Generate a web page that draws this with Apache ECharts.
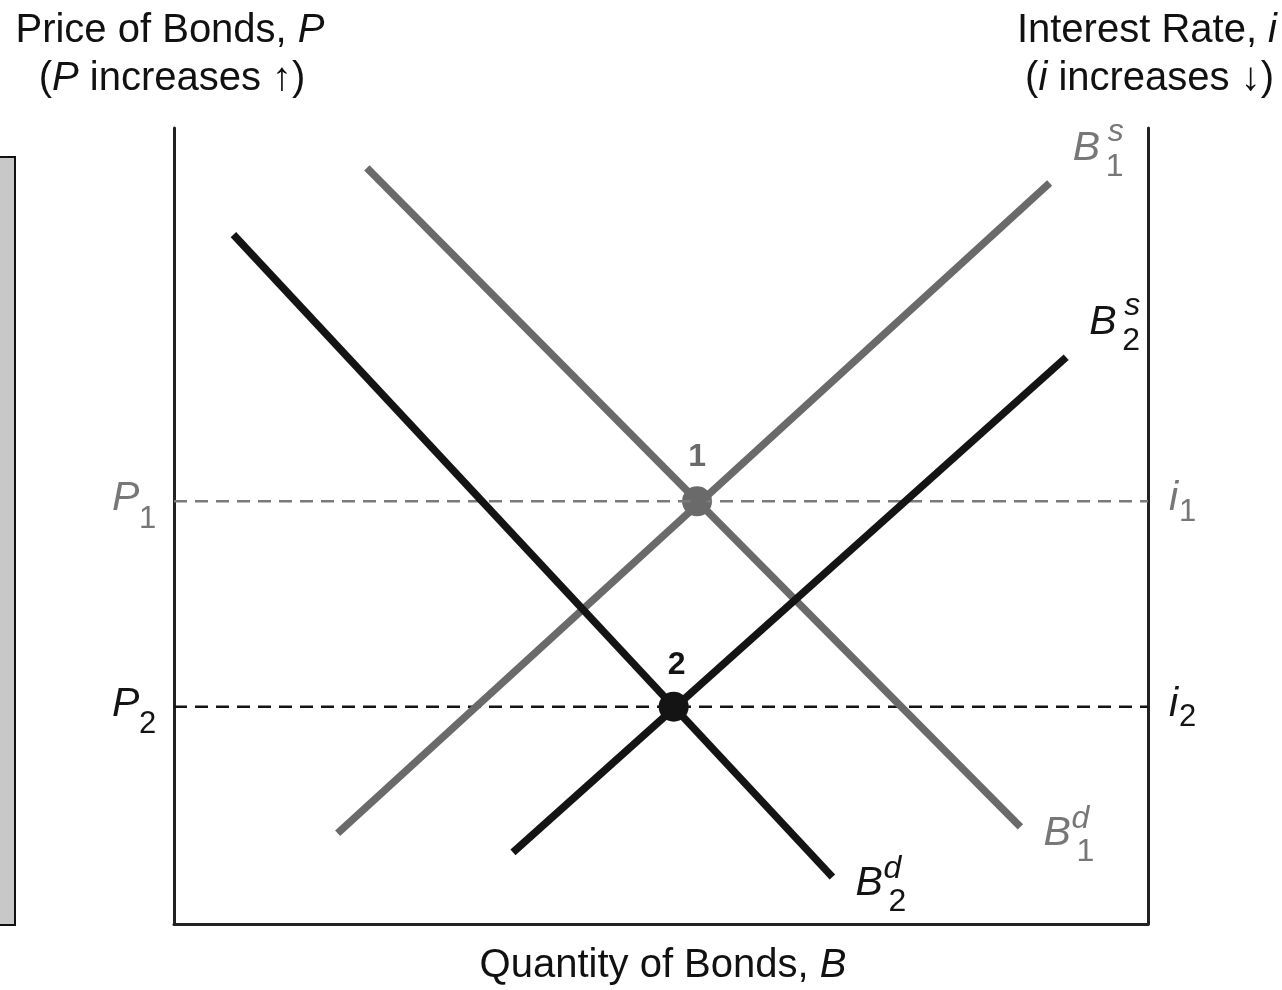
<!DOCTYPE html>
<html>
<head>
<meta charset="utf-8">
<script src="https://cdn.jsdelivr.net/npm/echarts@6.0.0/dist/echarts.min.js"></script>
<style>
  html, body { margin: 0; padding: 0; background: #fff; }
  #chart { width: 1282px; height: 990px; }
</style>
</head>
<body>
<div id="chart"></div>
<script>
// plot units: quantity 0-100 across, price 0-100 up
const supply1 = [[16.8, 11.4], [89.9, 93.1]];
const demand1 = [[19.8, 95.0], [86.9, 12.2]];
const supply2 = [[34.8, 9.0], [91.6, 71.2]];
const demand2 = [[6.1, 86.6], [67.6, 5.9]];
const priceLevels = [53.1, 27.3];
const equilibria = [[53.7, 53.1], [51.3, 27.3]];
const pointNames = ['1', '2'];
const priceNames = [['P', '1'], ['P', '2']];
const rateNames = [['i', '1'], ['i', '2']];

const FONT = '"Liberation Sans", Arial, Helvetica, sans-serif';
const GRAY = '#6a6a6a';
const BLACK = '#141414';
const TXT_GRAY = '#777';

const chart = echarts.init(document.getElementById('chart'));

const axisStyle = { show: true, onZero: false, lineStyle: { color: '#222', width: 3 } };
const hidden = { axisTick: { show: false }, axisLabel: { show: false }, splitLine: { show: false } };

function curve(data, color) {
  return {
    type: 'line', data, symbol: 'none', silent: true,
    lineStyle: { color, width: 7.5, cap: 'butt' }
  };
}

function level(y, color) {
  return {
    type: 'line', data: [[0, y], [100, y]], symbol: 'none', silent: true,
    lineStyle: { color, width: 2.5, type: [13, 8] }
  };
}

function dot(p, name, color, offset) {
  return {
    type: 'scatter', data: [p], symbolSize: 30, silent: true,
    itemStyle: { color, opacity: 1 },
    label: {
      show: true, position: 'inside', offset, formatter: name,
      color, fontFamily: FONT, fontWeight: 'bold', fontSize: 32
    }
  };
}

chart.setOption({
  animation: false,
  grid: { left: 174, right: 134, top: 128, bottom: 66 },
  xAxis: { type: 'value', min: 0, max: 100, axisLine: axisStyle, ...hidden },
  yAxis: [
    { type: 'value', min: 0, max: 100, position: 'left', axisLine: axisStyle, ...hidden },
    { type: 'value', min: 0, max: 100, position: 'right', axisLine: axisStyle, ...hidden }
  ],
  series: [
    level(priceLevels[0], '#7a7a7a'),
    level(priceLevels[1], BLACK),
    curve(supply1, GRAY),
    curve(demand1, GRAY),
    curve(supply2, BLACK),
    curve(demand2, BLACK),
    dot(equilibria[0], pointNames[0], GRAY, [0, -44]),
    dot(equilibria[1], pointNames[1], BLACK, [3, -42])
  ]
});

const px = p => chart.convertToPixel({ gridIndex: 0 }, p);

// text placed by baseline
function txt(x, base, text, size, color, opts) {
  opts = opts || {};
  return {
    type: 'text', x, y: base - 0.35 * size, silent: true,
    style: {
      text, fill: color, align: opts.align || 'left', verticalAlign: 'middle',
      font: (opts.italic ? 'italic ' : '') + size + 'px ' + FONT,
      rich: opts.rich
    }
  };
}

function curveLabel(end, sup, sub, color, isSupply) {
  const p = px(end);
  const bx = p[0] + 23;
  const by = p[1] + (isSupply ? -20 : 21);
  return [
    txt(bx, by, 'B', 41, color, { italic: true }),
    txt(bx + (isSupply ? 35 : 28), by - (isSupply ? 20 : 18), sup, 32, color, { italic: true }),
    txt(bx + 33, by + 15, sub, 32, color)
  ];
}

const richNorm = { fontSize: 40, fontFamily: FONT, color: '#111' };
const richIt = { fontSize: 40, fontFamily: FONT, color: '#111', fontStyle: 'italic' };

const graphics = [
  {
    type: 'rect', silent: true,
    shape: { x: -4, y: 157, width: 19, height: 768 },
    style: { fill: '#c8c8c8', stroke: '#111', lineWidth: 2 }
  },
  txt(170, 45, '{n|Price of Bonds, }{i|P}', 40, '#111', { align: 'center', rich: { n: richNorm, i: richIt } }),
  txt(172, 93, '{n|(}{i|P}{n| increases ↑)}', 40, '#111', { align: 'center', rich: { n: richNorm, i: richIt } }),
  txt(1277, 45, '{n|Interest Rate, }{i|i}', 40, '#111', { align: 'right', rich: { n: richNorm, i: richIt } }),
  txt(1274, 93, '{n|(}{i|i}{n| increases ↓)}', 40, '#111', { align: 'right', rich: { n: richNorm, i: richIt } }),
  txt(663, 980, '{n|Quantity of Bonds, }{i|B}', 40, '#111', { align: 'center', rich: { n: richNorm, i: richIt } }),
  ...curveLabel(supply1[1], 's', '1', TXT_GRAY, true),
  ...curveLabel(supply2[1], 's', '2', BLACK, true),
  ...curveLabel(demand1[1], 'd', '1', TXT_GRAY, false),
  ...curveLabel(demand2[1], 'd', '2', BLACK, false)
];

priceLevels.forEach((y, k) => {
  const left = px([0, y]);
  const right = px([100, y]);
  const color = k === 0 ? TXT_GRAY : BLACK;
  graphics.push(txt(left[0] - 62, left[1] + 12, priceNames[k][0], 41, color, { italic: true }));
  graphics.push(txt(left[0] - 35, left[1] + 29, priceNames[k][1], 31, color));
  graphics.push(txt(right[0] + 21, right[1] + 12, rateNames[k][0], 41, color, { italic: true }));
  graphics.push(txt(right[0] + 31, right[1] + 22, rateNames[k][1], 31, color));
});

chart.setOption({ graphic: graphics });
</script>
</body>
</html>
